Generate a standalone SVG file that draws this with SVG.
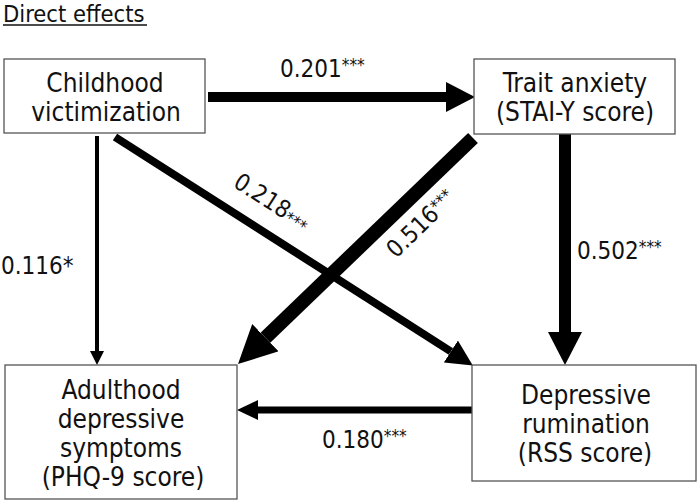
<svg xmlns="http://www.w3.org/2000/svg" width="697" height="503" viewBox="0 0 697 503">
<style>
.box{fill:#fff;stroke:#555;stroke-width:1.3}
.t{font-family:"DejaVu Sans Condensed","DejaVu Sans",sans-serif;font-stretch:condensed;font-size:26px;fill:#111;text-anchor:middle}
.c{font-family:"DejaVu Sans Condensed","DejaVu Sans",sans-serif;font-stretch:condensed;font-size:24px;fill:#111}
.s{font-size:17px}
.ln{stroke:#000;fill:none}
</style>
<defs>
<marker id="h1" markerUnits="userSpaceOnUse" markerWidth="30" markerHeight="30" refX="0" refY="15" orient="auto"><path d="M0,0 L29,15 L0,30 z" fill="#000"/></marker>
<marker id="h2" markerUnits="userSpaceOnUse" markerWidth="15" markerHeight="15" refX="0" refY="7" orient="auto"><path d="M0,0 L14,7 L0,14 z" fill="#000"/></marker>
<marker id="h3" markerUnits="userSpaceOnUse" markerWidth="27" markerHeight="27" refX="0" refY="13" orient="auto"><path d="M0,0 L26,13 L0,26 z" fill="#000"/></marker>
<marker id="h4" markerUnits="userSpaceOnUse" markerWidth="40" markerHeight="40" refX="0" refY="19" orient="auto"><path d="M0,0 L38,19 L0,38 z" fill="#000"/></marker>
<marker id="h5" markerUnits="userSpaceOnUse" markerWidth="34" markerHeight="34" refX="0" refY="17" orient="auto"><path d="M0,0 L33,17 L0,34 z" fill="#000"/></marker>
<marker id="h6" markerUnits="userSpaceOnUse" markerWidth="22" markerHeight="22" refX="0" refY="10" orient="auto"><path d="M0,0 L21,10 L0,20 z" fill="#000"/></marker>
</defs>
<rect width="697" height="503" fill="#fff"/>
<text x="3" y="21.5" class="c" style="font-size:23.5px">Direct effects</text>
<line x1="3" y1="25" x2="147" y2="25" stroke="#111" stroke-width="1.3"/>
<g id="connectors">
<line class="ln" x1="208" y1="97" x2="446" y2="97" stroke-width="10" marker-end="url(#h1)"/>
<line class="ln" x1="97" y1="136" x2="97" y2="351" stroke-width="4" marker-end="url(#h2)"/>
<line class="ln" x1="115" y1="137" x2="450.9" y2="351.5" stroke-width="8" marker-end="url(#h3)"/>
<line class="ln" x1="473" y1="138" x2="265.4" y2="337.7" stroke-width="14" marker-end="url(#h4)"/>
<line class="ln" x1="565" y1="134" x2="565" y2="332" stroke-width="12" marker-end="url(#h5)"/>
<line class="ln" x1="473" y1="410" x2="258" y2="410" stroke-width="7" marker-end="url(#h6)"/>
<text class="c" x="280" y="77">0.201<tspan class="s" dy="-6">***</tspan></text>
<text class="c" x="1" y="274">0.116*</text>
<text class="c" x="577" y="259">0.502<tspan class="s" dy="-6">***</tspan></text>
<text class="c" x="322" y="448">0.180<tspan class="s" dy="-6">***</tspan></text>
<text class="c" transform="translate(232,186) rotate(32.6)">0.218<tspan class="s" dy="2">***</tspan></text>
<text class="c" transform="translate(396,259) rotate(-44)">0.516<tspan class="s" dy="-5">***</tspan></text>
</g>
<g id="childhood">
<rect class="box" x="4" y="59" width="201" height="74"/>
<text class="t" x="105" y="92">Childhood</text>
<text class="t" x="106" y="121">victimization</text>
</g>
<g id="trait">
<rect class="box" x="474" y="59" width="201" height="75"/>
<text class="t" x="575" y="92">Trait anxiety</text>
<text class="t" x="575" y="121">(STAI-Y score)</text>
</g>
<g id="adulthood">
<rect class="box" x="5" y="365" width="232" height="134"/>
<text class="t" x="121" y="399">Adulthood</text>
<text class="t" x="121" y="428">depressive</text>
<text class="t" x="121" y="457">symptoms</text>
<text class="t" x="123" y="486">(PHQ-9 score)</text>
</g>
<g id="rumination">
<rect class="box" x="472" y="365" width="224" height="116"/>
<text class="t" x="586" y="404">Depressive</text>
<text class="t" x="586" y="433">rumination</text>
<text class="t" x="585" y="462">(RSS score)</text>
</g>
</svg>
